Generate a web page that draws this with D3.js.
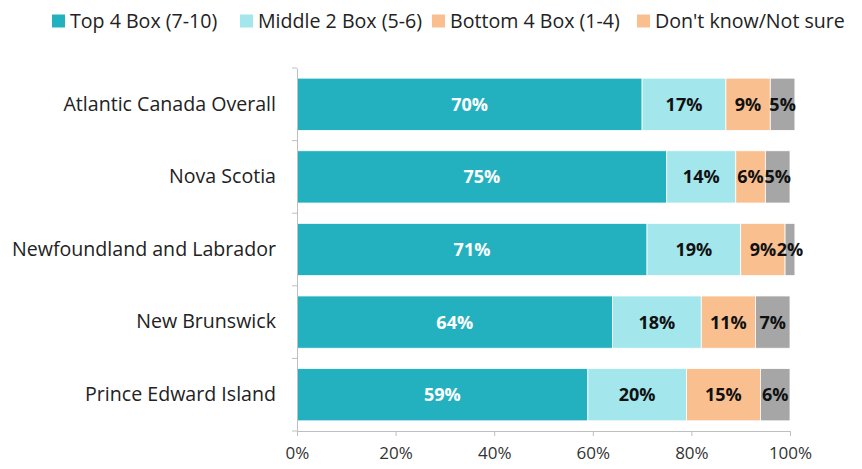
<!DOCTYPE html>
<html>
<head>
<meta charset="utf-8">
<script src="https://cdn.jsdelivr.net/npm/d3@7"></script>
<style>
  body { margin: 0; background: #fff; }
  svg { font-family: "Open Sans", sans-serif; }
</style>
</head>
<body>
<div id="chart"></div>
<script>
// Datos
const regions = ['Atlantic Canada Overall', 'Nova Scotia', 'Newfoundland and Labrador', 'New Brunswick', 'Prince Edward Island'];
const top4 = [70, 75, 71, 64, 59];
const middle2 = [17, 14, 19, 18, 20];
const bottom4 = [9, 6, 9, 11, 15];
const dontKnow = [5, 5, 2, 7, 6];
const seriesNames = ['Top 4 Box (7-10)', 'Middle 2 Box (5-6)', 'Bottom 4 Box (1-4)', "Don't know/Not sure"];
const seriesColors = ['#24B1BF', '#A3E6EC', '#F9BF8F', '#A6A6A6'];
const legendColors = ['#24B1BF', '#A3E6EC', '#F9BF8F', '#F9BF8F'];
const labelColors = ['#fff', '#111', '#111', '#111'];
const xTicks = [0, 20, 40, 60, 80, 100];

const W = 862, H = 469;
const margin = { top: 68, right: 72, bottom: 38, left: 297 };
const width = W - margin.left - margin.right;
const height = H - margin.top - margin.bottom;

const svg = d3.select('#chart').append('svg')
    .attr('width', W).attr('height', H);

const g = svg.append('g').attr('transform', `translate(${margin.left},${margin.top})`);

const x = d3.scaleLinear().domain([0, 100]).range([0, width]);
const y = d3.scaleBand().domain(regions).range([0, height]).paddingInner(0.28).paddingOuter(0.14);

const rows = regions.map((r, i) => ({ region: r, values: [top4[i], middle2[i], bottom4[i], dontKnow[i]] }));

// Barras
rows.forEach(row => {
    let acc = 0;
    row.values.forEach((v, k) => {
        const x0 = acc;
        acc += v;
        g.append('rect')
            .attr('x', x(x0)).attr('y', y(row.region))
            .attr('width', x(v) - x(0)).attr('height', y.bandwidth())
            .attr('fill', seriesColors[k])
            .attr('stroke', '#fff').attr('stroke-width', 0.8);
        g.append('text')
            .attr('x', x(x0 + v / 2)).attr('y', y(row.region) + y.bandwidth() / 2)
            .attr('dy', '0.36em').attr('text-anchor', 'middle')
            .attr('font-size', '18px').attr('font-weight', 'bold')
            .attr('fill', labelColors[k])
            .text(v + '%');
    });
});

// Ejes
const xAxis = g.append('g')
    .attr('transform', `translate(0,${height})`)
    .call(d3.axisBottom(x).tickValues(xTicks).tickFormat(d => d + '%').tickSize(5).tickSizeOuter(0));
xAxis.select('.domain').attr('stroke', '#bfbfbf');
xAxis.selectAll('.tick line').attr('stroke', '#bfbfbf');
xAxis.selectAll('.tick text').attr('font-size', '17px').attr('fill', '#333').attr('dy', '1.2em')
    .attr('font-family', '"Open Sans", sans-serif');

const yAxis = g.append('g')
    .call(d3.axisLeft(y).tickSize(0).tickPadding(21));
yAxis.select('.domain').attr('stroke', '#bfbfbf');
yAxis.selectAll('.tick text').attr('font-size', '19.6px').attr('fill', '#222')
    .attr('font-family', '"Open Sans", sans-serif');

// marcas entre categorías
d3.range(regions.length + 1).forEach(i => {
    const yy = i * height / regions.length;
    g.append('line').attr('x1', -5).attr('x2', 0).attr('y1', yy).attr('y2', yy).attr('stroke', '#bfbfbf');
});

// Leyenda
const legendX = [52, 240, 432, 637];
const legend = svg.append('g').attr('transform', 'translate(0,21)');
seriesNames.forEach((name, k) => {
    legend.append('rect').attr('x', legendX[k]).attr('y', -6.5).attr('width', 13).attr('height', 13)
        .attr('fill', legendColors[k]);
    legend.append('text').attr('x', legendX[k] + 18).attr('y', 0).attr('dy', '0.36em')
        .attr('font-size', '19.6px').attr('fill', '#222').text(name);
});
</script>
</body>
</html>
